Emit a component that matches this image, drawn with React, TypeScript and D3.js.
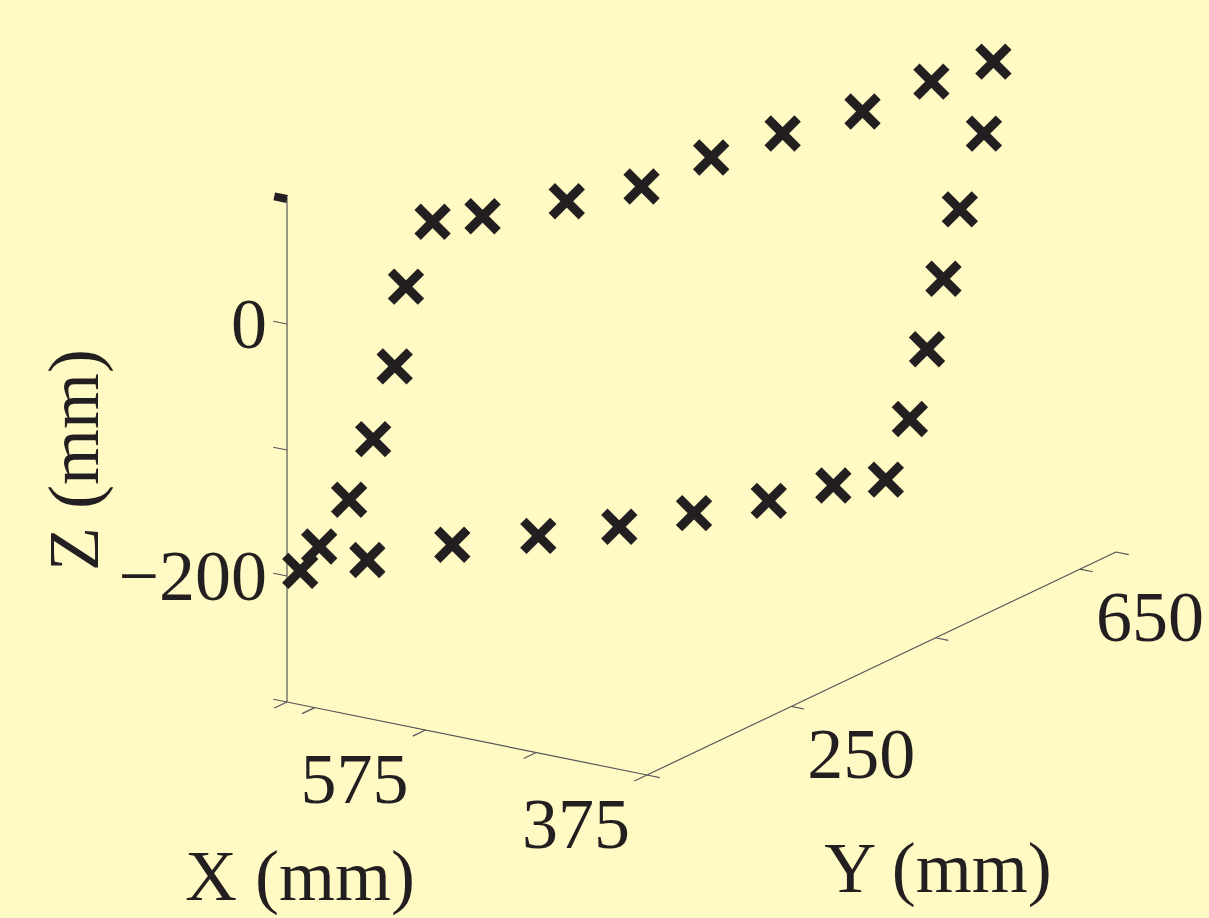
import React from 'react';
import * as d3 from 'd3';

// axis limits / ticks
const xDomain = [375, 700];
const yDomain = [50, 700];
const zDomain = [-300, 100];
const xTicks = [700, 675, 575, 475, 375];
const yTicks = [50, 250, 450, 650, 700];
const zTicks = [-300, -200, -100, 0];
const xTickLabels = [575, 375];
const yTickLabels = [250, 650];
const zTickLabels = [0, -200];

// measured trajectory points (mm)
const xs = [690, 682, 670, 660, 651, 646, 635, 614, 579, 548, 519, 489, 456, 427, 401,
  405, 415, 422, 429, 436, 446, 468, 495, 526, 557, 591, 627, 662];
const ys = [53, 67, 90, 108, 124, 132, 152, 189, 252, 308, 360, 413, 473, 524, 570,
  563, 545, 533, 521, 508, 490, 451, 403, 347, 291, 231, 167, 103];
const zs = [-195, -178, -145, -100, -45, 17, 65, 63, 64, 66, 80, 90, 97, 112, 120,
  64, 7, -46, -100, -153, -198, -196, -200, -200, -201, -198, -194, -195];

const W = 1209;
const H = 918;
const bg = '#fff9c4';
const ink = '#231f20';
const axisCol = '#555658';
const font = '"Liberation Serif", "Times New Roman", serif';

// oblique projection, corner (x=375,y=50,z=-300) sits at origin
const origin = [647, 775];
const sxX = d3.scaleLinear().domain(xDomain).range([0, -360]);
const syX = d3.scaleLinear().domain(xDomain).range([0, -73]);
const sxY = d3.scaleLinear().domain(yDomain).range([0, 469]);
const syY = d3.scaleLinear().domain(yDomain).range([0, -223]);
const syZ = d3.scaleLinear().domain(zDomain).range([0, -504]);

const project = (x: number, y: number, z: number): [number, number] => [
  origin[0] + sxX(x) + sxY(y),
  origin[1] + syX(x) + syY(y) + syZ(z),
];

const fmt = (v: number) => (v < 0 ? '\u2212' + Math.abs(v) : String(v));

export default function App() {
  const xAx = [project(xDomain[1], yDomain[0], zDomain[0]), project(xDomain[0], yDomain[0], zDomain[0])];
  const yAx = [project(xDomain[0], yDomain[0], zDomain[0]), project(xDomain[0], yDomain[1], zDomain[0])];
  const zAx = [project(xDomain[1], yDomain[0], zDomain[0]), project(xDomain[1], yDomain[0], zDomain[1])];

  // unit directions for ticks
  const ex = [xAx[0][0] - xAx[1][0], xAx[0][1] - xAx[1][1]];
  const exL = Math.hypot(ex[0], ex[1]);
  const exU = [ex[0] / exL, ex[1] / exL];
  const ey = [yAx[1][0] - yAx[0][0], yAx[1][1] - yAx[0][1]];
  const eyL = Math.hypot(ey[0], ey[1]);
  const eyU = [ey[0] / eyL, ey[1] / eyL];

  const pts = xs.map((x, i) => project(x, ys[i], zs[i]));
  const m = 15;

  const top = zAx[1];

  return (
    <svg width={W} height={H} style={{ position: 'absolute', left: 0, top: 0, background: bg }}>
      <rect width={W} height={H} fill={bg} />
      <g stroke={axisCol} strokeWidth={1.2} fill="none">
        <line x1={xAx[0][0]} y1={xAx[0][1]} x2={xAx[1][0]} y2={xAx[1][1]} />
        <line x1={yAx[0][0]} y1={yAx[0][1]} x2={yAx[1][0]} y2={yAx[1][1]} />
        <line x1={zAx[0][0]} y1={zAx[0][1]} x2={zAx[1][0]} y2={zAx[1][1]} />
        {xTicks.map(t => {
          const p = project(t, yDomain[0], zDomain[0]);
          return <line key={'xt' + t} x1={p[0]} y1={p[1]} x2={p[0] - eyU[0] * 14} y2={p[1] - eyU[1] * 14} />;
        })}
        {yTicks.map(t => {
          const p = project(xDomain[0], t, zDomain[0]);
          return <line key={'yt' + t} x1={p[0]} y1={p[1]} x2={p[0] - exU[0] * 13} y2={p[1] - exU[1] * 13} />;
        })}
        {zTicks.map(t => {
          const p = project(xDomain[1], yDomain[0], t);
          return <line key={'zt' + t} x1={p[0]} y1={p[1]} x2={p[0] + exU[0] * 14} y2={p[1] + exU[1] * 14} />;
        })}
      </g>
      <line x1={top[0]} y1={top[1] + 1} x2={top[0] + exU[0] * 13} y2={top[1] + 1 + exU[1] * 13}
        stroke={ink} strokeWidth={8} />

      <g stroke={ink} strokeWidth={9} strokeLinecap="butt">
        {pts.map((p, i) => (
          <g key={i}>
            <line x1={p[0] - m} y1={p[1] - m} x2={p[0] + m} y2={p[1] + m} />
            <line x1={p[0] - m} y1={p[1] + m} x2={p[0] + m} y2={p[1] - m} />
          </g>
        ))}
      </g>

      <g fontFamily={font} fontSize={72} fill={ink}>
        {xTickLabels.map(t => {
          const p = project(t, yDomain[0], zDomain[0]);
          return <text key={'xl' + t} x={p[0] - 71} y={p[1] + 73} textAnchor="middle">{fmt(t)}</text>;
        })}
        {yTickLabels.map(t => {
          const p = project(xDomain[0], t, zDomain[0]);
          return <text key={'yl' + t} x={p[0] + 70} y={p[1] + 72} textAnchor="middle">{fmt(t)}</text>;
        })}
        {zTickLabels.map(t => {
          const p = project(xDomain[1], yDomain[0], t);
          return <text key={'zl' + t} x={p[0] - 20} y={p[1] + 24} textAnchor="end">{fmt(t)}</text>;
        })}
        <text x={300} y={900} textAnchor="middle">X (mm)</text>
        <text x={938} y={892} textAnchor="middle">Y (mm)</text>
        <text transform="translate(98,460) rotate(-90)" textAnchor="middle">Z (mm)</text>
      </g>
    </svg>
  );
}
